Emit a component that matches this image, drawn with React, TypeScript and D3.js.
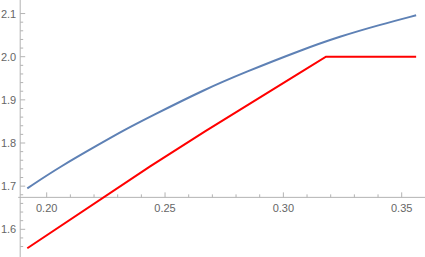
import * as d3 from "d3";
import { useEffect, useRef } from "react";

// blue curve
const blueX = [0.1918, 0.2056, 0.2225, 0.2324, 0.2437, 0.2669, 0.2838, 0.3071, 0.3239, 0.3408, 0.3561];
const blueY = [1.695, 1.745, 1.798, 1.829, 1.861, 1.9245, 1.964, 2.0145, 2.047, 2.074, 2.096];

// red curve (rises, then flat at 2.0)
const redX = [0.1918, 0.2437, 0.2669, 0.3071, 0.318, 0.3561];
const redY = [1.556, 1.746, 1.827, 1.963, 2.0, 2.0];

const xMajor = [0.2, 0.25, 0.3, 0.35];
const xMinor = d3.range(20, 36).map((v) => v / 100).filter((v) => !xMajor.some((m) => Math.abs(m - v) < 1e-9));
const yMajor = [1.6, 1.7, 1.8, 1.9, 2.0, 2.1];
const yMinor = d3.range(78, 106).map((v) => v / 50).filter((v) => !yMajor.some((m) => Math.abs(m - v) < 1e-9));

export default function App() {
  const ref = useRef<SVGSVGElement | null>(null);
  const width = 425;
  const height = 257;

  useEffect(() => {
    const svg = d3.select(ref.current);
    svg.selectAll("*").remove();

    const x = d3.scaleLinear().domain([0.2, 0.35]).range([46.7, 401.7]);
    const y = d3.scaleLinear().domain([1.6, 2.0]).range([229.3, 56.7]);

    const axisX = x(0.1888);
    const axisY = y(1.674);
    const axisColor = "#b3b3b3";
    const labelColor = "#666";

    // axes lines
    svg.append("line")
      .attr("x1", axisX).attr("x2", axisX)
      .attr("y1", 0).attr("y2", height)
      .attr("stroke", axisColor).attr("stroke-width", 1);
    svg.append("line")
      .attr("x1", axisX - 2).attr("x2", width)
      .attr("y1", axisY).attr("y2", axisY)
      .attr("stroke", axisColor).attr("stroke-width", 1);

    // x ticks
    svg.append("g").selectAll("line")
      .data(xMajor.map((v) => ({ v, len: 5 })).concat(xMinor.map((v) => ({ v, len: 3 }))))
      .enter().append("line")
      .attr("x1", (d) => x(d.v)).attr("x2", (d) => x(d.v))
      .attr("y1", axisY).attr("y2", (d) => axisY - d.len)
      .attr("stroke", axisColor);
    svg.append("g").selectAll("text")
      .data(xMajor).enter().append("text")
      .attr("x", (d) => x(d)).attr("y", axisY + 15)
      .attr("text-anchor", "middle")
      .attr("fill", labelColor)
      .style("font-family", "Liberation Sans, Arial, sans-serif")
      .style("font-size", "11px")
      .text((d) => d3.format(".2f")(d));

    // y ticks
    svg.append("g").selectAll("line")
      .data(yMajor.map((v) => ({ v, len: 5 })).concat(yMinor.map((v) => ({ v, len: 3 }))))
      .enter().append("line")
      .attr("x1", axisX).attr("x2", (d) => axisX + d.len)
      .attr("y1", (d) => y(d.v)).attr("y2", (d) => y(d.v))
      .attr("stroke", axisColor);
    svg.append("g").selectAll("text")
      .data(yMajor).enter().append("text")
      .attr("x", axisX - 4).attr("y", (d) => y(d) + 4)
      .attr("text-anchor", "end")
      .attr("fill", labelColor)
      .style("font-family", "Liberation Sans, Arial, sans-serif")
      .style("font-size", "11px")
      .text((d) => d3.format(".1f")(d));

    const blue = blueX.map((v, i) => [v, blueY[i]] as [number, number]);
    const red = redX.map((v, i) => [v, redY[i]] as [number, number]);

    svg.append("path")
      .attr("d", d3.line().x((d) => x(d[0])).y((d) => y(d[1])).curve(d3.curveBasis)(blue))
      .attr("fill", "none")
      .attr("stroke", "#5e81b5")
      .attr("stroke-width", 2);

    svg.append("path")
      .attr("d", d3.line().x((d) => x(d[0])).y((d) => y(d[1]))(red))
      .attr("fill", "none")
      .attr("stroke", "#ff0000")
      .attr("stroke-width", 2);
  }, []);

  return (
    <svg
      ref={ref}
      width={width}
      height={height}
      style={{ position: "absolute", left: 0, top: 0, background: "#fff" }}
    ></svg>
  );
}
